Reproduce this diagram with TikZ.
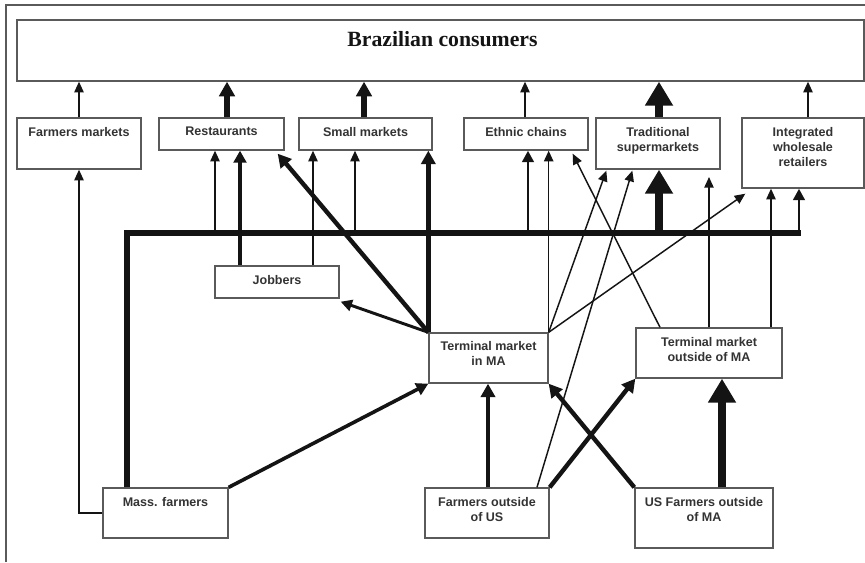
\documentclass[tikz,border=0pt]{standalone}
\usepackage{fontspec}
\setmainfont{Liberation Sans}
\newfontfamily\titlefont{Liberation Serif}
\usetikzlibrary{arrows.meta,fit,calc}
\definecolor{boxgray}{HTML}{5A5A5A}
\definecolor{txtgray}{HTML}{333333}
\definecolor{ink}{HTML}{141414}
\begin{document}
\begin{tikzpicture}[x=0.75pt,y=-0.75pt,
  box/.style={draw=boxgray, line width=1pt, inner sep=0pt},
  lbl/.style={font=\bfseries\fontsize{9.4}{11.3}\selectfont, text=txtgray, align=center, inner sep=0pt, anchor=north},
  thinA/.style={draw=ink, line width=1.1pt, -{Triangle[length=8pt,width=7pt]}},
  medA/.style={draw=ink, line width=2.2pt, -{Triangle[length=8.5pt,width=8.5pt]}},
  semiA/.style={draw=ink, line width=2.7pt, -{Triangle[length=9pt,width=9.5pt]}},
  thickA/.style={draw=ink, line width=3.3pt, -{Triangle[length=10pt,width=10.5pt]}},
  wideA/.style={draw=ink, line width=3.8pt, -{Triangle[length=11pt,width=11.5pt]}},
  hugeA/.style={draw=ink, line width=5.6pt, -{Triangle[length=18pt,width=20pt]}},
  busline/.style={draw=ink, line width=4.6pt},
]
\useasboundingbox (0,0) rectangle (865,562);
\fill[white] (0,0) rectangle (865,562);
\draw[boxgray, line width=1.1pt] (6,562) -- (6,5) -- (865,5);

% boxes
\node[box, fit={(17,20) (864,81)}] (cons) {};
\node[box, fit={(17,118) (141,169)}] (fm) {};
\node[box, fit={(159,118) (284,150)}] (rest) {};
\node[box, fit={(299,118) (432,150)}] (smk) {};
\node[box, fit={(464,118) (588,150)}] (eth) {};
\node[box, fit={(596,118) (720,169)}] (trad) {};
\node[box, fit={(742,118) (864,188)}] (integ) {};
\node[box, fit={(215,266) (339,298)}] (job) {};
\node[box, fit={(429,333) (548,383)}] (tmma) {};
\node[box, fit={(636,328) (782,378)}] (tmout) {};
\node[box, fit={(103,488) (228,538)}] (mass) {};
\node[box, fit={(425,488) (549,538)}] (fous) {};
\node[box, fit={(635,488) (773,548)}] (usf) {};

% labels
\node[font=\titlefont\bfseries\fontsize{16.3}{19}\selectfont, text=ink, anchor=north, inner sep=0pt] (consT) at ($(cons.north)+(2,12)$) {Brazilian consumers};
\node[lbl] (fmT) at ($(fm.north)+(0,9.5)$) {Farmers markets};
\node[lbl] (restT) at ($(rest.north)+(0,9.5)$) {Restaurants};
\node[lbl] (smkT) at ($(smk.north)+(0,9.5)$) {Small markets};
\node[lbl] (ethT) at ($(eth.north)+(0,9.5)$) {Ethnic chains};
\node[lbl] (tradT) at ($(trad.north)+(0,9.5)$) {Traditional\\supermarkets};
\node[lbl] (integT) at ($(integ.north)+(0,9.5)$) {Integrated\\wholesale\\retailers};
\node[lbl] (jobT) at ($(job.north)+(0,9.5)$) {Jobbers};
\node[lbl] (tmmaT) at ($(tmma.north)+(0,9)$) {Terminal market\\in MA};
\node[lbl] (tmoutT) at ($(tmout.north)+(0,9.5)$) {Terminal market\\outside of MA};
\node[lbl] (massT) at ($(mass.north)+(0,9.5)$) {Mass. farmers};
\node[lbl] (fousT) at ($(fous.north)+(0,9.5)$) {Farmers outside\\of US};
\node[lbl] (usfT) at ($(usf.north)+(0,9.5)$) {US Farmers outside\\of MA};

% arrows into consumers
\coordinate (xR) at (227,0);
\coordinate (xS) at (364,0);
\coordinate (xE) at (525,0);
\coordinate (xT) at (659,0);
\coordinate (xI) at (808,0);
\draw[thinA] (fm.north) -- (fm.north |- cons.south);
\draw[wideA] (xR |- rest.north) -- (xR |- cons.south);
\draw[wideA] (xS |- smk.north) -- (xS |- cons.south);
\draw[thinA] (xE |- eth.north) -- (xE |- cons.south);
\draw[hugeA] (xT |- trad.north) -- (xT |- cons.south);
\draw[thinA] (xI |- integ.north) -- (xI |- cons.south);

% bus
\coordinate (bL) at (127,233);
\coordinate (bR) at (801,233);
\draw[busline] (bL |- mass.north) -- (bL) -- (bR);
\coordinate (b1) at (215,233);
\coordinate (b2) at (355,233);
\coordinate (b3) at (528,233);
\coordinate (b4) at (659,233);
\coordinate (b5) at (799,233);
\draw[thinA] (b1) -- (b1 |- rest.south);
\draw[thinA] (b2) -- (b2 |- smk.south);
\draw[medA] (b3) -- (b3 |- eth.south);
\draw[hugeA] (b4) -- (b4 |- trad.south);
\draw[medA] (b5) -- (b5 |- integ.south);

% jobbers
\coordinate (j1) at (240,0);
\coordinate (j2) at (313,0);
\draw[semiA] (j1 |- job.north) -- (j1 |- rest.south);
\draw[thinA] (j2 |- job.north) -- (j2 |- smk.south);

% terminal market in MA
\draw[thickA] (tmma.north west) -- (tmma.north west |- smk.south);
\draw[thickA] (tmma.north west) -- ($(rest.south east)+(-7,3)$);
\draw[medA] (tmma.north west) -- ($(job.south east)+(1,3)$);
\draw[thinA] (tmma.north east) -- (tmma.north east |- eth.south);
\draw[thinA] (tmma.north east) -- ($(trad.south west)+(11,1)$);
\draw[thinA] (tmma.north east) -- ($(integ.south west)+(4,5)$);

% terminal market outside of MA
\coordinate (o1) at (660,0);
\coordinate (o2) at (709,0);
\coordinate (o3) at (771,0);
\coordinate (o2end) at (709,177);
\draw[thinA] (o1 |- tmout.north) -- ($(eth.south east)+(-16,3)$);
\draw[thinA] (o2 |- tmout.north) -- (o2end);
\draw[thinA] (o3 |- tmout.north) -- (o3 |- integ.south);

% producers
\draw[thinA] (mass.west) -| (fm.south);
\draw[semiA] (mass.north east) -- (tmma.south west);
\coordinate (f1) at (488,0);
\coordinate (f2) at (537,0);
\coordinate (u1) at (722,0);
\draw[thickA] (f1 |- fous.north) -- (f1 |- tmma.south);
\draw[thickA] (fous.north east) -- (tmout.south west);
\draw[thickA] (usf.north west) -- (tmma.south east);
\draw[hugeA] (u1 |- usf.north) -- (u1 |- tmout.south);
\draw[thinA] (f2 |- fous.north) -- ($(trad.south west)+(37,1)$);
\end{tikzpicture}
\end{document}
